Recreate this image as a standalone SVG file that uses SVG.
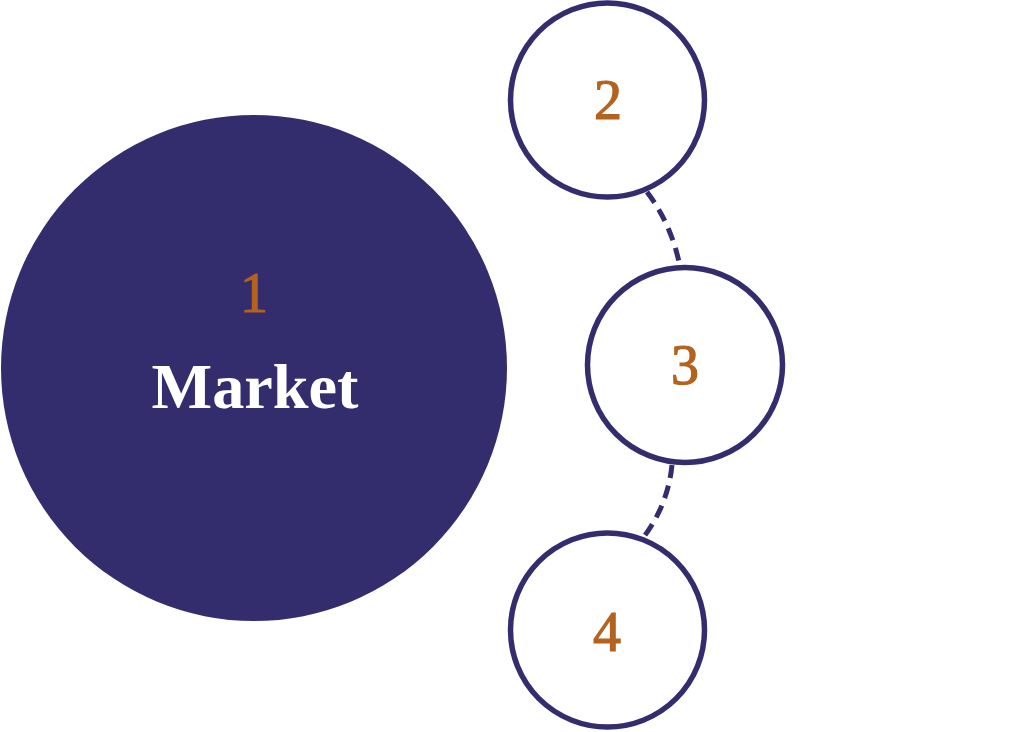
<svg xmlns="http://www.w3.org/2000/svg" width="1024" height="732" viewBox="0 0 1024 732">
<style>
.ring{fill:#ffffff;stroke:#332d6e;stroke-width:5.5}
.num{font-family:"Liberation Serif","DejaVu Serif",serif;font-size:56px;fill:#b4621f;stroke:#b4621f;stroke-width:1.2;text-anchor:middle}
.lbl{font-family:"Liberation Serif","DejaVu Serif",serif;font-size:64px;font-weight:bold;fill:#ffffff}
.dash{fill:none;stroke:#332d6e;stroke-width:5;stroke-dasharray:13 8}
</style>
<rect width="1024" height="732" fill="#ffffff"/>
<g id="connectors">
<path class="dash" d="M647,192 Q672,225 680,267"/>
<path class="dash" d="M672,465 Q668,505 643,538"/>
</g>
<g id="node1">
<circle cx="254" cy="368" r="253" fill="#332d6e"/>
<text class="num" x="254" y="312">1</text>
<text x="255" y="408" font-family="'Liberation Serif','DejaVu Serif',serif" font-size="64" font-weight="bold" fill="#ffffff" text-anchor="middle" textLength="207" lengthAdjust="spacingAndGlyphs">Market</text>
</g>
<g id="node2">
<circle class="ring" cx="607.5" cy="100" r="97"/>
<text class="num" x="608" y="119">2</text>
<text class="lbl" x="747" y="113" textLength="218" lengthAdjust="spacingAndGlyphs">Mission</text>
</g>
<g id="node3">
<circle class="ring" cx="685" cy="365" r="97.5"/>
<text class="num" x="685" y="384">3</text>
<text class="lbl" x="842" y="382" textLength="180" lengthAdjust="spacingAndGlyphs">Model</text>
</g>
<g id="node4">
<circle class="ring" cx="607.5" cy="630" r="97"/>
<text class="num" x="607" y="651">4</text>
<text class="lbl" x="752" y="662" textLength="206" lengthAdjust="spacingAndGlyphs">Margin</text>
</g>
</svg>
